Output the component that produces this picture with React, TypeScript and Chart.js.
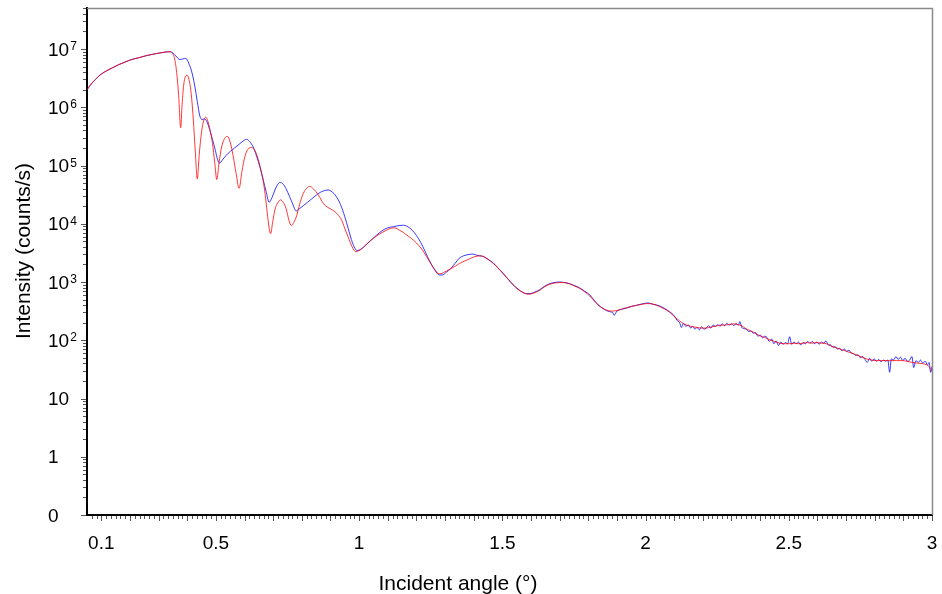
import React, { useEffect, useRef } from "react";
import { Chart, registerables } from "chart.js";

Chart.register(...registerables);

// ---- axis ticks ----
const xTickValues = [0.1, 0.5, 1, 1.5, 2, 2.5, 3];
const xTickLabels = ["0.1", "0.5", "1", "1.5", "2", "2.5", "3"];
const yTickValues = [0.1, 1, 10, 100, 1e3, 1e4, 1e5, 1e6, 1e7];
const yTickBase = ["0", "1", "10", "10", "10", "10", "10", "10", "10"];
const yTickExp = ["", "", "", "2", "3", "4", "5", "6", "7"];

const xTitle = "Incident angle (°)";
const yTitle = "Intensity (counts/s)";

// ---- blue series: incident angle (°) / intensity (counts/s) ----
const blueAngle = [
  0.05, 0.06, 0.07, 0.08, 0.09, 0.1, 0.12, 0.14, 0.16, 0.18, 0.2, 0.23, 0.26, 0.29, 0.32, 0.34,
  0.35, 0.36, 0.374, 0.385, 0.395, 0.405, 0.415, 0.425, 0.435, 0.444, 0.452, 0.46, 0.468, 0.478,
  0.488, 0.498, 0.506, 0.513, 0.522, 0.535, 0.55, 0.565, 0.58, 0.595, 0.607, 0.618, 0.63, 0.642,
  0.654, 0.665, 0.675, 0.686, 0.696, 0.706, 0.715, 0.723, 0.733, 0.745, 0.757, 0.768, 0.78, 0.792,
  0.805, 0.82, 0.835, 0.85, 0.865, 0.88, 0.892, 0.905, 0.92, 0.935, 0.95, 0.962, 0.973, 0.983,
  0.993, 1.005, 1.02, 1.04, 1.06, 1.08, 1.1, 1.12, 1.14, 1.155, 1.17, 1.185, 1.2, 1.215, 1.23,
  1.247, 1.265, 1.28, 1.29, 1.305, 1.32, 1.335, 1.35, 1.365, 1.38, 1.396, 1.41, 1.42, 1.433, 1.45,
  1.468, 1.485, 1.503, 1.52, 1.538, 1.555, 1.572, 1.585, 1.596, 1.61, 1.631, 1.645, 1.66, 1.68,
  1.7, 1.718, 1.735, 1.752, 1.77, 1.788, 1.805, 1.82, 1.834, 1.85, 1.863, 1.875, 1.886, 1.89, 1.9,
  1.915, 1.933, 1.95, 1.968, 1.985, 2.008, 2.025, 2.049, 2.065, 2.084,
  2.1, 2.11, 2.119, 2.125, 2.132, 2.14, 2.15, 2.158, 2.165, 2.172, 2.18, 2.188, 2.195, 2.204,
  2.212, 2.22, 2.228, 2.236, 2.244, 2.252, 2.26, 2.268, 2.276, 2.284, 2.292, 2.3, 2.308, 2.316,
  2.324, 2.329, 2.336, 2.344, 2.352, 2.36, 2.368, 2.376, 2.384, 2.392, 2.4, 2.408, 2.416, 2.424,
  2.432, 2.44, 2.448, 2.456, 2.464, 2.472, 2.48, 2.488, 2.496, 2.503, 2.51, 2.518, 2.526, 2.534,
  2.542, 2.55, 2.558, 2.566, 2.574, 2.582, 2.59, 2.598, 2.606, 2.614, 2.622, 2.63, 2.638, 2.646,
  2.654, 2.662, 2.67, 2.678, 2.686, 2.694, 2.702, 2.71, 2.718, 2.726, 2.734, 2.742, 2.75, 2.758,
  2.766, 2.774, 2.782, 2.79, 2.798, 2.806, 2.814, 2.822, 2.83, 2.838, 2.846, 2.852, 2.858, 2.866,
  2.874, 2.882, 2.89, 2.898, 2.906, 2.914, 2.922, 2.93, 2.936, 2.944, 2.952, 2.96, 2.968, 2.976,
  2.984, 2.99, 2.995, 3.0,
];
const blueCounts = [
  2.0e6, 2.34e6, 2.69e6, 3.02e6, 3.39e6, 3.72e6, 4.27e6, 4.79e6, 5.37e6, 5.89e6, 6.46e6, 7.08e6,
  7.76e6, 8.32e6, 8.81e6, 9.0e6,
  8.51e6, 7.59e6, 6.61e6, 6.76e6, 6.92e6, 5.75e6, 4.17e6, 2.51e6, 1.26e6, 7.08e5, 6.17e5, 6.31e5,
  5.75e5, 4.17e5, 2.82e5, 1.82e5, 1.26e5, 1.1e5, 1.23e5, 1.48e5, 1.74e5, 2.0e5, 2.29e5, 2.63e5,
  2.82e5, 2.57e5, 2.09e5, 1.45e5, 9.33e4, 5.75e4, 3.63e4, 2.34e4, 2.82e4, 3.8e4, 4.68e4, 5.13e4,
  4.9e4, 3.98e4, 2.95e4, 2.19e4, 1.66e4, 1.82e4, 2.04e4, 2.34e4, 2.69e4, 3.09e4, 3.47e4, 3.72e4,
  3.8e4, 3.55e4, 2.95e4, 2.14e4, 1.32e4, 8.32e3, 5.37e3, 3.98e3, 3.47e3, 3.63e3, 4.17e3, 5.13e3,
  6.31e3, 7.59e3, 8.51e3, 8.91e3, 9.33e3, 9.44e3, 8.91e3, 7.76e3, 6.31e3, 4.79e3, 3.39e3, 2.24e3,
  1.58e3, 1.32e3, 1.32e3, 1.48e3, 1.7e3, 2.09e3, 2.57e3, 2.82e3, 2.95e3, 3.02e3, 2.88e3, 2.82e3,
  2.75e3, 2.45e3, 2.14e3, 1.74e3, 1.41e3, 1.12e3, 891, 759, 661, 631, 631, 661, 741, 832, 912,
  977, 1000, 977, 933, 871, 794, 692, 603, 490, 407, 355, 324, 309, 295, 269, 316, 339, 355, 380,
  398, 417, 437, 417, 389, 355, 309,
  263, 219, 200, 166, 195, 174, 182, 162, 174, 155, 166, 151, 170, 155,
  162, 178, 162, 182, 174, 186, 174, 191, 178, 195, 182, 191, 178, 195,
  182, 209, 166, 158, 155, 141, 145, 132, 135, 117, 123, 110, 117, 112,
  95.5, 105, 87.1, 97.7, 81.3, 93.3, 85.1, 91.2, 87.1, 115, 85.1, 93.3, 87.1, 93.3,
  83.2, 91.2, 87.1, 95.5, 89.1, 95.5, 87.1, 93.3, 85.1, 93.3, 89.1, 97.7, 83.2, 83.2,
  75.9, 77.6, 70.8, 72.4, 66.1, 70.8, 64.6, 67.6, 60.3, 58.9, 55.0, 56.2, 50.1, 52.5,
  46.8, 41.7, 49.0, 43.7, 47.9, 43.7, 46.8, 42.7, 45.7, 43.7, 45.7, 28.2, 47.9, 45.7,
  52.5, 46.8, 51.3, 44.7, 49.0, 43.7, 45.7, 52.5, 33.9, 44.7, 41.7, 45.7, 40.7, 43.7,
  38.0, 41.7, 28.2, 35.5,
];

// ---- red series: incident angle (°) / intensity (counts/s) ----
const redAngle = [
  0.05, 0.06, 0.07, 0.08, 0.09, 0.1, 0.12, 0.14, 0.16, 0.18, 0.2, 0.23, 0.26, 0.29, 0.32, 0.34,
  0.345, 0.355, 0.363, 0.37, 0.377, 0.382, 0.388, 0.398, 0.406, 0.414, 0.421, 0.428, 0.435, 0.442,
  0.45, 0.458, 0.465, 0.472, 0.48, 0.488, 0.496, 0.503, 0.511, 0.52, 0.53, 0.54, 0.55, 0.56, 0.57,
  0.581, 0.591, 0.601, 0.612, 0.625, 0.637, 0.648, 0.657, 0.665, 0.672, 0.679, 0.686, 0.691, 0.698,
  0.706, 0.716, 0.726, 0.735, 0.745, 0.755, 0.763, 0.772, 0.782, 0.792, 0.805, 0.817, 0.828, 0.84,
  0.857, 0.87, 0.88, 0.895, 0.909, 0.925, 0.939, 0.95, 0.962, 0.975, 0.989, 1.0, 1.012, 1.026,
  1.044, 1.061, 1.08, 1.096, 1.11, 1.125, 1.14, 1.152, 1.165, 1.182, 1.2, 1.218, 1.235, 1.25,
  1.265, 1.279, 1.29, 1.305, 1.317, 1.335, 1.351, 1.368, 1.386, 1.4, 1.409, 1.42, 1.433, 1.45,
  1.468, 1.485, 1.503, 1.52, 1.538, 1.555, 1.572, 1.59, 1.61, 1.631, 1.645, 1.66, 1.68, 1.7, 1.718,
  1.735, 1.752, 1.77, 1.788, 1.805, 1.82, 1.834, 1.85, 1.863, 1.88, 1.9, 1.915, 1.933, 1.95, 1.968,
  1.99, 2.008, 2.025, 2.049, 2.065, 2.084, 2.1, 2.119, 2.135, 2.15, 2.165, 2.18, 2.195, 2.212,
  2.23, 2.245, 2.259, 2.275, 2.29, 2.305, 2.32, 2.335, 2.35, 2.363, 2.38, 2.398, 2.415, 2.433,
  2.45, 2.468, 2.485, 2.503, 2.52, 2.535, 2.549, 2.565, 2.58, 2.596, 2.615, 2.631, 2.648, 2.666,
  2.685, 2.701, 2.72, 2.736, 2.755, 2.771, 2.79, 2.805, 2.825, 2.852, 2.875, 2.898, 2.92, 2.945,
  2.965, 2.98, 2.99, 3.0,
];
const redCounts = [
  2.0e6, 2.34e6, 2.69e6, 3.02e6, 3.39e6, 3.72e6, 4.27e6, 4.79e6, 5.37e6, 5.89e6, 6.46e6, 7.08e6,
  7.76e6, 8.32e6, 8.81e6, 9.0e6,
  8.71e6, 7.08e6, 3.98e6, 1.58e6, 4.47e5, 1.12e6, 2.51e6, 3.55e6, 3.02e6, 1.66e6, 6.31e5, 1.78e5,
  5.89e4, 1.58e5, 3.8e5, 6.03e5, 6.76e5, 5.75e5, 3.98e5, 2.4e5, 1.12e5, 5.75e4, 1.12e5, 2.09e5,
  2.88e5, 3.16e5, 2.51e5, 1.48e5, 7.59e4, 4.07e4, 7.94e4, 1.41e5, 1.91e5, 2.04e5, 1.78e5, 1.26e5,
  8.32e4, 5.5e4, 3.16e4, 1.58e4, 8.32e3, 6.76e3, 1.05e4, 1.74e4, 2.29e4, 2.57e4, 2.34e4, 1.82e4,
  1.15e4, 9.33e3, 1.05e4, 1.38e4, 2.14e4, 3.31e4, 4.07e4, 4.37e4, 3.98e4, 3.16e4, 2.45e4, 2.09e4,
  1.86e4, 1.7e4, 1.45e4, 1.15e4, 8.32e3, 5.89e3, 4.07e3, 3.31e3, 3.47e3, 3.8e3, 4.47e3, 5.37e3,
  6.17e3, 7.08e3, 7.76e3, 8.32e3, 8.51e3, 7.76e3, 7.24e3, 6.46e3, 5.62e3, 4.68e3, 3.72e3, 2.75e3,
  2.09e3, 1.62e3, 1.38e3, 1.41e3, 1.55e3, 1.66e3, 1.86e3, 2.09e3, 2.29e3, 2.51e3, 2.69e3, 2.75e3,
  2.82e3, 2.75e3, 2.45e3, 2.09e3, 1.74e3, 1.38e3, 1.12e3, 891, 741, 661, 617, 646, 724, 813, 891,
  955, 977, 977, 933, 851, 776, 676, 575, 479, 407, 355, 331, 316, 324, 339, 363, 380, 398, 417,
  427, 417, 380, 347, 302, 257, 214, 191, 178, 170, 166, 162, 162, 170, 174, 182, 182, 186, 191,
  186, 178, 158, 148, 135, 120, 112, 102, 95.5, 89.1, 87.1, 87.1, 89.1, 87.1, 89.1, 91.2, 89.1,
  91.2, 89.1, 87.1, 79.4, 74.1, 69.2, 64.6, 60.3, 56.2, 51.3, 47.9, 45.7, 44.7, 44.7, 44.7, 44.7,
  44.7, 42.7, 40.7, 39.8, 38.0, 35.5, 28.8,
];

const FONT = '"Liberation Sans", Arial, sans-serif';

const toPoints = (xs: number[], ys: number[]) => xs.map((x, i) => ({ x, y: ys[i] }));

const decorPlugin = {
  id: "decor",
  afterDraw(chart: any) {
    const { ctx, chartArea: ca, scales } = chart;
    const xs = scales.x;
    const ys = scales.y;
    ctx.save();
    // top / right frame
    ctx.strokeStyle = "#8a8a8a";
    ctx.lineWidth = 1.5;
    ctx.beginPath();
    ctx.moveTo(ca.left, ca.top + 0.5);
    ctx.lineTo(ca.right + 0.5, ca.top + 0.5);
    ctx.lineTo(ca.right + 0.5, ca.bottom);
    ctx.stroke();

    // x minor ticks
    ctx.strokeStyle = "#555";
    ctx.lineWidth = 1;
    for (let i = 4; i <= 180; i++) {
      const px = Math.round(xs.getPixelForValue(i / 60)) + 0.5;
      const len = i % 6 === 0 ? 5 : 3;
      ctx.beginPath();
      ctx.moveTo(px, ca.bottom + 1);
      ctx.lineTo(px, ca.bottom + 1 + len);
      ctx.stroke();
    }
    // y ticks
    for (let d = -1; d <= 7; d++) {
      for (let m = 1; m <= 9; m++) {
        const v = m * Math.pow(10, d);
        if (v > ys.max) break;
        const py = Math.round(ys.getPixelForValue(v)) + 0.5;
        const len = m === 1 ? 5 : 3;
        ctx.beginPath();
        ctx.moveTo(ca.left - 1, py);
        ctx.lineTo(ca.left - 1 - len, py);
        ctx.stroke();
      }
    }
    // y labels
    ctx.fillStyle = "#000";
    ctx.textAlign = "left";
    ctx.textBaseline = "alphabetic";
    yTickValues.forEach((v, i) => {
      const py = ys.getPixelForValue(v);
      ctx.font = `19px ${FONT}`;
      const base = yTickBase[i];
      ctx.fillText(base, 48, py + 6.5);
      if (yTickExp[i]) {
        const w = ctx.measureText(base).width;
        ctx.font = `12px ${FONT}`;
        ctx.fillText(yTickExp[i], 48 + w + 1, py + 1);
      }
    });

    // axis titles
    ctx.font = `21px ${FONT}`;
    ctx.textAlign = "center";
    ctx.textBaseline = "alphabetic";
    ctx.fillText(xTitle, 458, 590);
    ctx.translate(29.5, 251);
    ctx.rotate(-Math.PI / 2);
    ctx.fillText(yTitle, 0, 0);
    ctx.restore();
  },
};

export default function App() {
  const ref = useRef<HTMLCanvasElement | null>(null);
  useEffect(() => {
    if (!ref.current) return;
    const chart = new Chart(ref.current, {
      type: "line",
      data: {
        datasets: [
          {
            label: "red",
            data: toPoints(redAngle, redCounts),
            borderColor: "rgba(255,0,0,0.78)",
            borderWidth: 1,
            pointRadius: 0,
            fill: false,
            cubicInterpolationMode: "monotone",
          },
          {
            label: "blue",
            data: toPoints(blueAngle, blueCounts),
            borderColor: "rgba(0,0,255,0.78)",
            borderWidth: 1,
            pointRadius: 0,
            fill: false,
            cubicInterpolationMode: "monotone",
          },
        ],
      },
      options: {
        animation: false,
        responsive: false,
        devicePixelRatio: 1,
        layout: { padding: { top: 8, right: 10, left: 0, bottom: 0 } },
        plugins: { legend: { display: false }, tooltip: { enabled: false } },
        scales: {
          x: {
            type: "linear",
            min: 0.05,
            max: 3,
            afterBuildTicks: (s: any) => {
              s.ticks = xTickValues.map((v) => ({ value: v }));
            },
            afterFit: (s: any) => {
              s.height = 79;
              s.paddingLeft = 0;
              s.paddingRight = 0;
            },
            ticks: {
              autoSkip: false,
              maxRotation: 0,
              padding: 17,
              color: "#000",
              font: { family: FONT, size: 19 },
              callback: (v: any) => {
                const idx = xTickValues.indexOf(Number(v));
                return idx >= 0 ? xTickLabels[idx] : "";
              },
            },
            grid: { display: true, drawOnChartArea: false, drawTicks: false, color: "rgba(0,0,0,0)" },
            border: { display: true, color: "#000", width: 2 },
            title: { display: false, text: xTitle },
          },
          y: {
            type: "logarithmic",
            min: 0.1,
            max: 5.06e7,
            afterBuildTicks: (s: any) => {
              s.ticks = yTickValues.map((v) => ({ value: v }));
            },
            afterFit: (s: any) => {
              s.width = 87;
              s.paddingTop = 0;
              s.paddingBottom = 0;
            },
            ticks: { display: false },
            grid: { display: true, drawOnChartArea: false, drawTicks: false, color: "rgba(0,0,0,0)" },
            border: { display: true, color: "#000", width: 2 },
            title: { display: false, text: yTitle },
          },
        },
      },
      plugins: [decorPlugin],
    } as any);
    return () => chart.destroy();
  }, []);
  return (
    <div style={{ position: "absolute", left: 0, top: 0, width: 942, height: 594, background: "#fff" }}>
      <canvas ref={ref} width={942} height={594} />
    </div>
  );
}
